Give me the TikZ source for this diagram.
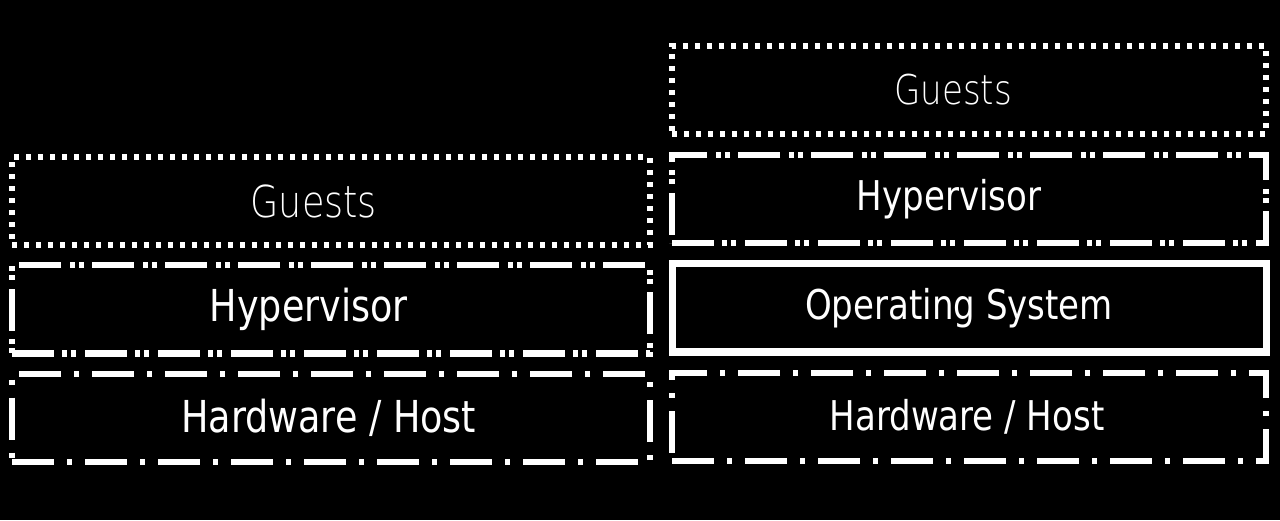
\documentclass[tikz,border=0pt]{standalone}
\usepackage{fontspec}
\usetikzlibrary{positioning}
\newfontfamily\layerfont[FakeStretch=0.83]{DejaVu Sans}
\newfontfamily\layerthinfont[FakeStretch=0.83]{DejaVu Sans ExtraLight}

\begin{document}
\begin{tikzpicture}[
    x=0.5pt, y=0.5pt,
    layer/.style={
        rectangle,
        draw=white,
        line width=3pt,
        text=white,
        minimum height=44pt,
        inner sep=0pt,
        outer sep=0pt
    },
    leftcol/.style={
        layer,
        minimum width=318.75pt,
        font=\layerfont\fontsize{22}{26}\selectfont
    },
    rightcol/.style={
        layer,
        minimum width=297pt,
        font=\layerfont\fontsize{20.5}{24}\selectfont
    },
    nudge/.style={
        execute at end node={\hspace*{#1}}
    },
    guests/.style={
        dash pattern=on 2.5pt off 3.5pt,
        execute at begin node=\layerthinfont
    },
    hyperv/.style={
        dash pattern=on 21pt off 4pt on 2.5pt off 2pt on 2.5pt off 4.5pt
    },
    hwhost/.style={
        dash pattern=on 21pt off 6.5pt on 2.5pt off 6.5pt
    },
    opsys/.style={
        line width=3.5pt
    }
]
\fill[black] (0,0) rectangle (1280,520);
\useasboundingbox (0,0) rectangle (1280,520);

% left stack
\node[leftcol, hwhost, nudge=2pt] (lefthw) at (330.75,102.5) {Hardware / Host};
\node[leftcol, hyperv, nudge=22pt, above=10pt of lefthw] (lefthyp) {Hypervisor};
\node[leftcol, guests, nudge=17pt, above=10pt of lefthyp] (leftguests) {Guests};

% right stack
\node[rightcol, hwhost, nudge=2pt] (righthw) at (969,103) {Hardware / Host};
\node[rightcol, opsys, nudge=10pt, above=10.5pt of righthw] (rightos) {Operating System};
\node[rightcol, hyperv, nudge=20pt, above=10.5pt of rightos] (righthyp) {Hypervisor};
\node[rightcol, guests, nudge=16pt, above=10.5pt of righthyp] (rightguests) {Guests};

\end{tikzpicture}
\end{document}
